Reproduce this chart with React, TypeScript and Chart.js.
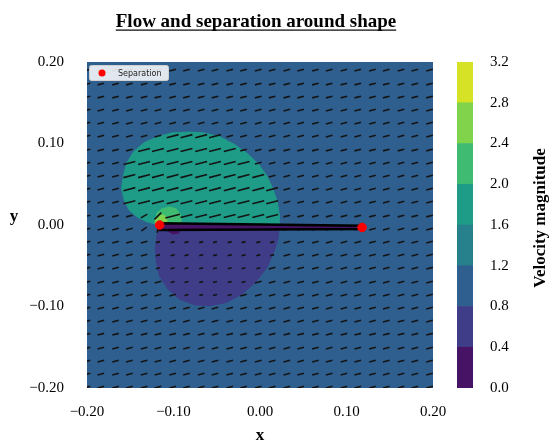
import React, { useEffect, useRef } from "react";
import { Chart, registerables } from "chart.js";

Chart.register(...registerables);

// ---------- text ----------
const TITLE = "Flow and separation around shape";
const X_LABEL = "x";
const Y_LABEL = "y";
const CBAR_LABEL = "Velocity magnitude";
const SEP_LABEL = "Separation";

// ---------- axes ----------
const AXIS_MIN = -0.2;
const AXIS_MAX = 0.2;
const AXIS_TICKS = [-0.2, -0.1, 0.0, 0.1, 0.2];

// ---------- colour levels (contourf, viridis) ----------
const LEVELS = [0.0, 0.4, 0.8, 1.2, 1.6, 2.0, 2.4, 2.8, 3.2];
const LEVEL_COLORS = ["#471365", "#3f3d87", "#2f5f8e", "#27818d", "#1f9c88", "#40bc72", "#82d34c", "#d5e225"];

// ---------- contour regions ----------
const BG_BAND = 2;
const BG_X = [-0.2, 0.2, 0.2, -0.2];
const BG_Y = [0.2, 0.2, -0.2, -0.2];

const TEAL_BAND = 4;
const TEAL_X = [-0.116, -0.131, -0.142, -0.151, -0.157, -0.160, -0.158, -0.154, -0.146, -0.134, -0.119, -0.102, -0.083, -0.065, -0.046, -0.030, -0.015, -0.002, 0.008, 0.015, 0.020, 0.022, 0.022];
const TEAL_Y = [0.000, 0.004, 0.010, 0.018, 0.031, 0.045, 0.060, 0.076, 0.090, 0.101, 0.108, 0.113, 0.114, 0.113, 0.108, 0.099, 0.088, 0.075, 0.060, 0.044, 0.028, 0.014, 0.000];

const PURPLE_BAND = 1;
const PURPLE_X = [-0.116, -0.119, -0.121, -0.120, -0.116, -0.106, -0.093, -0.075, -0.058, -0.039, -0.021, -0.005, 0.008, 0.016, 0.021, 0.022];
const PURPLE_Y = [-0.001, -0.012, -0.028, -0.045, -0.063, -0.079, -0.091, -0.098, -0.099, -0.095, -0.085, -0.070, -0.052, -0.033, -0.016, -0.003];

const GREEN_BAND = 5;
const GREEN_X = [-0.120, -0.121, -0.119, -0.113, -0.105, -0.097, -0.092, -0.091, -0.092];
const GREEN_Y = [0.000, 0.007, 0.015, 0.020, 0.022, 0.020, 0.013, 0.006, 0.000];

const LIGHT_BAND = 6;
const LIGHT_X = [-0.121, -0.121, -0.117, -0.111, -0.108, -0.108];
const LIGHT_Y = [0.000, 0.007, 0.012, 0.012, 0.007, 0.000];

const DARK_BAND = 0;
const DARK_X = [-0.109, -0.107, -0.101, -0.094, -0.092, -0.092];
const DARK_Y = [-0.001, -0.007, -0.011, -0.010, -0.004, -0.001];

// ---------- body (flat plate) ----------
const PLATE_X = [-0.116, 0.118, 0.118, -0.116];
const PLATE_Y = [0.002, -0.001, -0.005, -0.006];

// ---------- separation points ----------
const SEP_X = [-0.116, 0.118];
const SEP_Y = [0.000, -0.003];

// ---------- quiver ----------
const QUIVER_X = [-0.200, -0.184, -0.167, -0.151, -0.134, -0.118, -0.101, -0.085, -0.068, -0.052, -0.035, -0.019, -0.002, 0.014, 0.031, 0.047, 0.064, 0.080, 0.097, 0.113, 0.130, 0.146, 0.163, 0.179, 0.196];
const QUIVER_Y = [0.190, 0.173, 0.157, 0.141, 0.125, 0.109, 0.092, 0.076, 0.060, 0.044, 0.028, 0.011, -0.005, -0.021, -0.037, -0.053, -0.070, -0.086, -0.102, -0.118, -0.134, -0.151, -0.167, -0.183, -0.199];
const FREESTREAM_U = 0.97;
const FREESTREAM_V = 0.25;
// arrows that differ near the leading edge
const OVR_X = [-0.118, -0.118, -0.134, -0.134];
const OVR_Y = [0.011, -0.005, -0.005, 0.011];
const OVR_U = [1.0, 0.3, 0.8, 0.95];
const OVR_V = [1.0, 1.1, 0.55, 0.55];

const ARROW_PX_PER_SPEED = 6.8;
const SERIF = "'Liberation Serif', 'Times New Roman', serif";

// regions, topmost first (for arrow speed lookup)
const REGIONS = [
  { band: LIGHT_BAND, xs: LIGHT_X, ys: LIGHT_Y, order: 80 },
  { band: GREEN_BAND, xs: GREEN_X, ys: GREEN_Y, order: 85 },
  { band: DARK_BAND, xs: DARK_X, ys: DARK_Y, order: 85 },
  { band: TEAL_BAND, xs: TEAL_X, ys: TEAL_Y, order: 90 },
  { band: PURPLE_BAND, xs: PURPLE_X, ys: PURPLE_Y, order: 90 },
  { band: BG_BAND, xs: BG_X, ys: BG_Y, order: 100 },
];

function inPoly(x: number, y: number, xs: number[], ys: number[]) {
  let inside = false;
  for (let i = 0, j = xs.length - 1; i < xs.length; j = i++) {
    const xi = xs[i], yi = ys[i], xj = xs[j], yj = ys[j];
    if (yi > y !== yj > y && x < ((xj - xi) * (y - yi)) / (yj - yi) + xi) inside = !inside;
  }
  return inside;
}
const bandMid = (b: number) => (LEVELS[b] + LEVELS[b + 1]) / 2;

function buildArrows() {
  const out: any[] = [];
  for (const y of QUIVER_Y) {
    for (const x of QUIVER_X) {
      let band = BG_BAND;
      for (const r of REGIONS) {
        if (inPoly(x, y, r.xs, r.ys)) { band = r.band; break; }
      }
      const s = bandMid(band);
      let u = FREESTREAM_U * s;
      let v = FREESTREAM_V * s;
      const k = OVR_X.findIndex((ox, i) => Math.abs(ox - x) < 0.004 && Math.abs(OVR_Y[i] - y) < 0.004);
      if (k >= 0) { u = OVR_U[k]; v = OVR_V[k]; }
      out.push({ x, y, u, v });
    }
  }
  return out;
}

const toPts = (xs: number[], ys: number[]) => xs.map((x, i) => ({ x, y: ys[i] }));
const fmt = (v: number, d: number) => (Math.abs(v) < 1e-9 ? 0 : v).toFixed(d).replace("-", "\u2212");

const decorPlugin = {
  id: "decor",
  afterDraw(chart: any) {
    const { ctx, chartArea } = chart;
    const cx = (chartArea.left + chartArea.right) / 2;
    ctx.save();
    // title with underline
    ctx.fillStyle = "#000";
    ctx.font = `bold 19px ${SERIF}`;
    ctx.textAlign = "center";
    ctx.textBaseline = "alphabetic";
    const tx = cx - 4;
    ctx.fillText(TITLE, tx, 27);
    const w = ctx.measureText(TITLE).width;
    ctx.fillRect(tx - w / 2, 29.5, w, 1.2);
    // axis labels
    ctx.font = `bold 17px ${SERIF}`;
    ctx.textBaseline = "middle";
    ctx.fillText(X_LABEL, cx, 436);
    ctx.fillText(Y_LABEL, 14, 217);
    // legend
    const sep = chart.data.datasets.find((d: any) => d.label === SEP_LABEL);
    const lx = chartArea.left + 2, ly = chartArea.top + 3;
    ctx.fillStyle = "rgba(255,255,255,0.85)";
    ctx.strokeStyle = "#d0d0d0";
    ctx.lineWidth = 1;
    ctx.beginPath();
    ctx.roundRect(lx + 0.5, ly + 0.5, 79, 15, 2);
    ctx.fill();
    ctx.stroke();
    ctx.fillStyle = sep.backgroundColor;
    ctx.beginPath();
    ctx.arc(lx + 13, ly + 8, 3.5, 0, Math.PI * 2);
    ctx.fill();
    ctx.fillStyle = "#222";
    ctx.font = "8px 'DejaVu Sans', sans-serif";
    ctx.textAlign = "left";
    ctx.fillText(sep.label, lx + 29, ly + 8.5);
    ctx.restore();
  },
};

const cbarLabelPlugin = {
  id: "cbarLabel",
  afterDraw(chart: any) {
    const { ctx } = chart;
    ctx.save();
    ctx.translate(101, 218);
    ctx.rotate(-Math.PI / 2);
    ctx.fillStyle = "#000";
    ctx.font = `bold 17px ${SERIF}`;
    ctx.textAlign = "center";
    ctx.textBaseline = "middle";
    ctx.fillText(CBAR_LABEL, 0, 0);
    ctx.restore();
  },
};

export default function App() {
  const mainRef = useRef<HTMLCanvasElement>(null);
  const cbarRef = useRef<HTMLCanvasElement>(null);

  useEffect(() => {
    const arrows = buildArrows();
    const regionSets = REGIONS.map((r) => ({
      type: "line",
      data: toPts(r.xs, r.ys),
      showLine: true,
      fill: "shape",
      backgroundColor: LEVEL_COLORS[r.band],
      borderColor: LEVEL_COLORS[r.band],
      borderWidth: 1,
      pointRadius: 0,
      tension: 0,
      order: r.order,
    }));
    const platePts = toPts(PLATE_X, PLATE_Y);
    platePts.push(platePts[0]);

    const main = new Chart(mainRef.current!, {
      type: "scatter",
      data: {
        datasets: [
          ...regionSets,
          {
            type: "scatter",
            label: "quiver",
            data: arrows,
            order: 20,
            pointStyle: "line",
            pointRadius: (c: any) => (c.raw ? (Math.hypot(c.raw.u, c.raw.v) * ARROW_PX_PER_SPEED) / 2 : 0),
            pointHoverRadius: (c: any) => (c.raw ? (Math.hypot(c.raw.u, c.raw.v) * ARROW_PX_PER_SPEED) / 2 : 0),
            pointRotation: (c: any) => (c.raw ? (-Math.atan2(c.raw.v, c.raw.u) * 180) / Math.PI : 0),
            pointBorderColor: "#141414",
            pointBackgroundColor: "#141414",
            pointBorderWidth: 1.6,
          },
          {
            type: "line",
            label: "plate",
            data: platePts,
            showLine: true,
            fill: "shape",
            backgroundColor: LEVEL_COLORS[0],
            borderColor: "#000",
            borderWidth: 2.5,
            pointRadius: 0,
            tension: 0,
            order: 10,
          },
          {
            type: "scatter",
            label: SEP_LABEL,
            data: toPts(SEP_X, SEP_Y),
            backgroundColor: "red",
            borderColor: "red",
            pointRadius: 4.3,
            order: 0,
          },
        ] as any,
      },
      options: {
        responsive: false,
        animation: false,
        events: [],
        layout: { padding: { top: 62, right: 117, left: 0, bottom: 0 } },
        plugins: { legend: { display: false }, tooltip: { enabled: false }, title: { display: false } },
        scales: {
          x: {
            type: "linear",
            min: AXIS_MIN,
            max: AXIS_MAX,
            grid: { display: false, drawTicks: false },
            border: { display: false },
            afterBuildTicks: (s: any) => { s.ticks = AXIS_TICKS.map((v) => ({ value: v })); },
            afterFit: (s: any) => { s.height = 59; },
            ticks: { color: "#000", padding: 15, maxRotation: 0, font: { family: SERIF, size: 15 }, callback: (v: any) => fmt(Number(v), 2) },
          },
          y: {
            type: "linear",
            min: AXIS_MIN,
            max: AXIS_MAX,
            grid: { display: false, drawTicks: false },
            border: { display: false },
            afterBuildTicks: (s: any) => { s.ticks = AXIS_TICKS.map((v) => ({ value: v })); },
            afterFit: (s: any) => { s.width = 87; },
            ticks: { color: "#000", padding: 23, font: { family: SERIF, size: 15 }, callback: (v: any) => fmt(Number(v), 2) },
          },
        },
      } as any,
      plugins: [decorPlugin],
    });

    const cbar = new Chart(cbarRef.current!, {
      type: "bar",
      data: {
        labels: [""],
        datasets: LEVEL_COLORS.map((c, i) => ({
          data: [LEVELS[i + 1] - LEVELS[i]],
          backgroundColor: c,
          borderWidth: 0,
          barPercentage: 1,
          categoryPercentage: 1,
          stack: "cb",
        })),
      },
      options: {
        responsive: false,
        animation: false,
        events: [],
        layout: { padding: { top: 62, left: 17, right: 0, bottom: 59 } },
        plugins: { legend: { display: false }, tooltip: { enabled: false } },
        scales: {
          x: { stacked: true, display: false },
          y: {
            stacked: true,
            position: "right",
            min: LEVELS[0],
            max: LEVELS[LEVELS.length - 1],
            grid: { display: false, drawTicks: false },
            border: { display: false },
            afterBuildTicks: (s: any) => { s.ticks = LEVELS.map((v) => ({ value: v })); },
            afterFit: (s: any) => { s.width = 77; },
            ticks: { color: "#000", padding: 17, font: { family: SERIF, size: 15 }, callback: (v: any) => fmt(Number(v), 1) },
          },
        },
      } as any,
      plugins: [cbarLabelPlugin],
    });

    return () => {
      main.destroy();
      cbar.destroy();
    };
  }, []);

  return (
    <div style={{ position: "fixed", left: 0, top: 0, width: 550, height: 447, background: "#fff" }}>
      <canvas ref={mainRef} width={550} height={447} style={{ position: "absolute", left: 0, top: 0 }} />
      <canvas ref={cbarRef} width={110} height={447} style={{ position: "absolute", left: 440, top: 0 }} />
    </div>
  );
}
